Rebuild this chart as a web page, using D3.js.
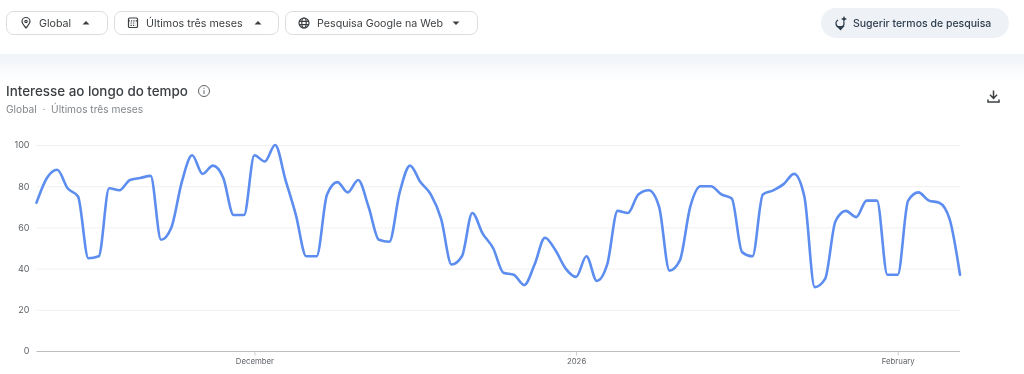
<!DOCTYPE html>
<html><head><meta charset="utf-8">
<script src="https://cdn.jsdelivr.net/npm/d3@7"></script>
<style>
html,body{margin:0;padding:0;background:#fff;overflow:hidden}
svg{display:block;font-family:Inter,Roboto,sans-serif}
</style></head><body>
<svg id="c" width="1024" height="374"></svg>
<script>
const startDate = "2025-11-10";
const interest = [72,84,88,79,75,45,46,79,78,83,84,85,54,60,82,95,86,90,84,66,66,95,92,100,83,66,46,46,76,82,
77,83,70,54,53,77,90,82,76,64,42,46,67,57,50,38,37,32,42,55,49,40,36,46,34,42,68,67,76,78,
70,39,44,70,80,80,76,74,48,46,76,78,81,86,75,31,35,63,68,65,73,73,37,37,73,77,73,72,64,37];
const yTicks = [0,20,40,60,80,100];
const xTickDates = ["2025-12-01","2026-01-01","2026-02-01"];
const xTickLabels = ["December","2026","February"];
const selectors = [
 {label:"Global",icon:"pin",caret:"up",x:6,w:101,tx:39,cx:86},
 {label:"Últimos três meses",icon:"cal",caret:"up",x:114,w:164,tx:146,cx:258},
 {label:"Pesquisa Google na Web",icon:"globe",caret:"down",x:285,w:192,tx:317,cx:456}
];
const title = "Interesse ao longo do tempo";
const subtitle = "Global  ·  Últimos três meses";
const suggest = "Sugerir termos de pesquisa";

const svg = d3.select("#c");
const defs = svg.append("defs");
const g = defs.append("linearGradient").attr("id","band").attr("x1",0).attr("x2",0).attr("y1",0).attr("y2",1);
g.append("stop").attr("offset",0).attr("stop-color","#f0f4f8");
g.append("stop").attr("offset",1).attr("stop-color","#ffffff");
defs.append("filter").attr("id","soft").append("feGaussianBlur").attr("stdDeviation",0.35);

const root = svg.append("g").attr("filter","url(#soft)");
root.append("rect").attr("x",0).attr("y",54).attr("width",1024).attr("height",27).attr("fill","url(#band)");

// selector chips
selectors.forEach(s=>{
  const b = root.append("g");
  b.append("rect").attr("x",s.x+.5).attr("y",11.5).attr("width",s.w).attr("height",23).attr("rx",7)
    .attr("fill","#fff").attr("stroke","#dadce0");
  b.append("text").attr("x",s.tx).attr("y",27).attr("font-size",10.7).attr("fill","#3c4043").text(s.label);
  const c = s.cx, d = s.caret==="up" ? [[c-3.5,24.5],[c+3.5,24.5],[c,21]] : [[c-3.5,21.5],[c+3.5,21.5],[c,25]];
  b.append("path").attr("d",d3.line()(d)+"Z").attr("fill","#3c4043");
  const ic = b.append("g").attr("fill","none").attr("stroke","#3c4043").attr("stroke-width",1.2);
  const ix = s.tx-13;
  if(s.icon==="pin"){
    ic.append("path").attr("d",`M${ix} 28 C${ix-2} 25.5 ${ix-4} 23.5 ${ix-4} 21.5 A4 4 0 0 1 ${ix+4} 21.5 C${ix+4} 23.5 ${ix+2} 25.5 ${ix} 28Z`);
    ic.append("circle").attr("cx",ix).attr("cy",21.5).attr("r",1.2);
  } else if(s.icon==="cal"){
    ic.append("rect").attr("x",ix-4.5).attr("y",18).attr("width",9).attr("height",9.5).attr("rx",1);
    ic.append("path").attr("d",`M${ix-4.5} 20.8H${ix+4.5}M${ix-2.5} 23H${ix+2.5}M${ix-2.5} 25.3H${ix+2.5}`).attr("stroke-dasharray","1.3 1.1");
  } else {
    ic.append("circle").attr("cx",ix).attr("cy",23).attr("r",5);
    ic.append("ellipse").attr("cx",ix).attr("cy",23).attr("rx",2.2).attr("ry",5);
    ic.append("path").attr("d",`M${ix-5} 21.3H${ix+5}M${ix-5} 24.7H${ix+5}`);
  }
});

// suggest button
root.append("rect").attr("x",821).attr("y",8).attr("width",188).attr("height",30).attr("rx",15).attr("fill","#eef2f7");
root.append("text").attr("x",853).attr("y",27).attr("font-size",10.5).attr("font-weight",500).attr("fill","#2f3d4c").text(suggest);
const sp = root.append("g").attr("fill","none").attr("stroke","#2f3d4c").attr("stroke-width",1.4);
sp.append("path").attr("d","M843.5 21.5A4 4 0 1 1 838 20");
sp.append("path").attr("d","M838 26.8H843L840.5 29.5Z").attr("fill","#2f3d4c");
root.append("path").attr("d","M844 16l1 2 2 1-2 1-1 2-1-2-2-1 2-1z").attr("fill","#2f3d4c");

// headings
root.append("text").attr("x",6).attr("y",96).attr("font-size",13.4).attr("font-weight",500).attr("fill","#3c4043").text(title);
root.append("text").attr("x",6).attr("y",113).attr("font-size",10.2).attr("fill","#80868b").attr("xml:space","preserve").text(subtitle);
const info = root.append("g").attr("fill","none").attr("stroke","#5f6368").attr("stroke-width",1);
info.append("circle").attr("cx",204).attr("cy",91).attr("r",5.5);
info.append("path").attr("d","M204 90.2V94M204 87.8V88.9");

// download icon
root.append("path").attr("d","M993.5 90.5V98M990 94.8L993.5 98.4L997 94.8M988 99.5V102H999V99.5")
  .attr("fill","none").attr("stroke","#3c4043").attr("stroke-width",1.5);

// chart
const parse = d3.utcParse("%Y-%m-%d");
const t0 = parse(startDate);
const dates = interest.map((_,i)=>d3.utcDay.offset(t0,i));
const x = d3.scaleUtc().domain(d3.extent(dates)).range([36.5,960]);
const y = d3.scaleLinear().domain([0,100]).range([351,145]);

const yAxis = root.append("g").attr("transform","translate(36.5,0)")
  .call(d3.axisLeft(y).tickValues(yTicks).tickSize(-923.5).tickPadding(7));
yAxis.select(".domain").remove();
yAxis.selectAll(".tick line").attr("stroke","#f0f0f0").attr("stroke-width",1);
yAxis.selectAll(".tick text").attr("font-size",9).attr("font-family","Inter,Roboto,sans-serif").attr("fill","#5f6368");
yAxis.selectAll(".tick").filter(d=>d===0).select("line").remove();

const xAxis = root.append("g").attr("transform","translate(0,351.5)")
  .call(d3.axisBottom(x).tickValues(xTickDates.map(parse)).tickSize(4).tickPadding(3)
    .tickFormat((d,i)=>xTickLabels[i]));
xAxis.select(".domain").attr("stroke","#bdbdbd").attr("stroke-width",1).attr("d","M36.5,0H960");
xAxis.selectAll(".tick line").attr("stroke","#cfcfcf");
xAxis.selectAll(".tick text").attr("font-size",7.8).attr("font-family","Inter,Roboto,sans-serif").attr("fill","#5f6368");

const line = d3.line().x((d,i)=>x(dates[i])).y(d=>y(d)).curve(d3.curveMonotoneX);
root.append("path").datum(interest).attr("d",line).attr("fill","none")
  .attr("stroke","#5b8def").attr("stroke-width",2.6).attr("stroke-linejoin","round").attr("stroke-linecap","round");
</script>
</body></html>
